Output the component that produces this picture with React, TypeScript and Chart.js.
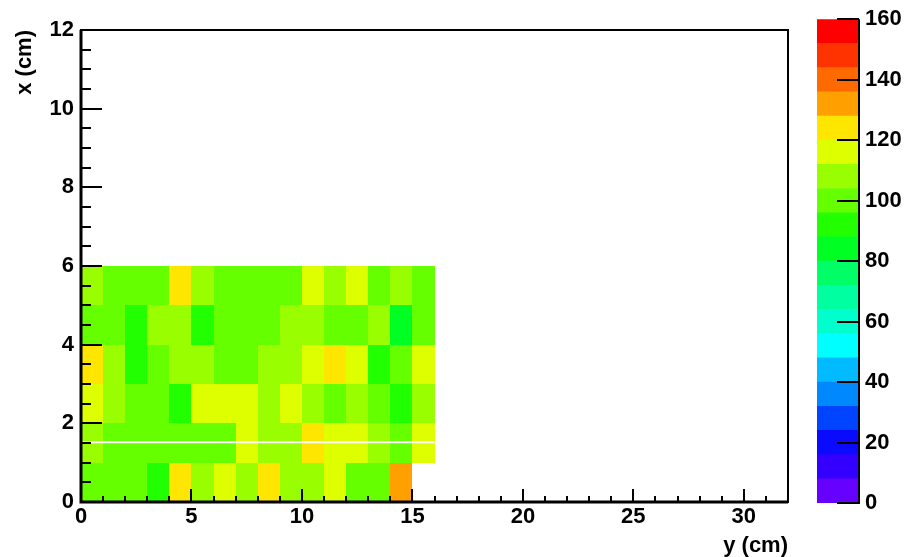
import React, { useEffect, useRef } from "react";
import { Chart, registerables } from "chart.js";

Chart.register(...registerables);

// ---- Data ----
// bin edges along the horizontal axis "y (cm)" and vertical axis "x (cm)"
const colEdges = [0, 1, 2, 3, 4, 5, 6, 7, 8, 9, 10, 11, 12, 13, 14, 15, 16];
const rowEdges = [0, 1, 2, 3, 4, 5, 6];

// bin contents, one array per row (x from 0 to 1, 1 to 2, ...)
const rowX0 = [99, 101, 98, 92, 124, 107, 116, 109, 123, 106, 110, 115, 100, 97, 131, null];
const rowX1 = [108, 101, 99, 100, 102, 98, 101, 117, 110, 107, 125, 118, 116, 106, 99, 117];
const rowX2 = [114, 109, 100, 98, 93, 117, 115, 118, 105, 116, 111, 102, 108, 99, 91, 106];
const rowX3 = [121, 106, 90, 102, 110, 105, 99, 101, 107, 109, 114, 126, 117, 89, 103, 119];
const rowX4 = [100, 98, 94, 111, 106, 91, 102, 97, 99, 108, 105, 101, 98, 110, 86, 100];
const rowX5 = [107, 103, 99, 101, 125, 109, 100, 98, 102, 97, 115, 106, 118, 101, 108, 103];
const rows = [rowX0, rowX1, rowX2, rowX3, rowX4, rowX5];

// thin white gap line seen across the filled region
const gapLine = [
  { x: 0, y: 1.52 },
  { x: 16, y: 1.52 },
];

// colour palette contour levels and colours
const zLevels = [0, 8, 16, 24, 32, 40, 48, 56, 64, 72, 80, 88, 96, 104, 112, 120, 128, 136, 144, 152, 160];
const zColors = [
  "#6600ff", "#3300ff", "#0a0aff", "#0044ff", "#0088ff",
  "#00bbff", "#00ffff", "#00ffcc", "#00ffa0", "#00ff66",
  "#00ff22", "#22ff00", "#66ff00", "#99ff00", "#ddff00",
  "#ffe600", "#ffa000", "#ff6a00", "#ff3300", "#ff0000",
];

const xTicksMajor = [0, 5, 10, 15, 20, 25, 30];
const yTicksMajor = [0, 2, 4, 6, 8, 10, 12];
const zTicksMajor = [0, 20, 40, 60, 80, 100, 120, 140, 160];

const FONT = "'Liberation Sans', Arial, Helvetica, sans-serif";
const TICK_FONT = { family: FONT, size: 22, weight: "bold" as const };

function colorFor(v: number): string {
  for (let i = 0; i < zColors.length; i++) {
    if (v >= zLevels[i] && v < zLevels[i + 1]) return zColors[i];
  }
  return zColors[zColors.length - 1];
}

const heatmapPlugin = {
  id: "heatmap",
  beforeDatasetsDraw(chart: any) {
    const { ctx } = chart;
    const xs = chart.scales.x;
    const ys = chart.scales.y;
    ctx.save();
    rows.forEach((row, r) => {
      row.forEach((v, c) => {
        if (v === null || v === undefined) return;
        const x0 = Math.round(xs.getPixelForValue(colEdges[c]));
        const x1 = Math.round(xs.getPixelForValue(colEdges[c + 1]));
        const y0 = Math.round(ys.getPixelForValue(rowEdges[r]));
        const y1 = Math.round(ys.getPixelForValue(rowEdges[r + 1]));
        ctx.fillStyle = colorFor(v as number);
        ctx.fillRect(x0, y1, x1 - x0, y0 - y1);
      });
    });
    ctx.restore();
  },
};

const framePlugin = {
  id: "frame",
  afterDraw(chart: any) {
    const { ctx, chartArea: a } = chart;
    const xs = chart.scales.x;
    const ys = chart.scales.y;
    ctx.save();
    ctx.strokeStyle = "#000";
    ctx.lineWidth = 2;
    ctx.beginPath();
    for (let v = 0; v <= 32; v += 1) {
      const px = Math.round(xs.getPixelForValue(v));
      const len = xTicksMajor.includes(v) ? 13 : 6;
      ctx.moveTo(px, a.bottom);
      ctx.lineTo(px, a.bottom - len);
    }
    for (let v = 0; v <= 12; v += 0.5) {
      const py = Math.round(ys.getPixelForValue(v));
      const len = yTicksMajor.includes(v) ? 21 : 10;
      ctx.moveTo(a.left, py);
      ctx.lineTo(a.left + len, py);
    }
    ctx.stroke();
    ctx.strokeRect(a.left, a.top, a.right - a.left, a.bottom - a.top);
    ctx.lineWidth = 3;
    ctx.beginPath();
    ctx.moveTo(a.left, a.top);
    ctx.lineTo(a.left, a.bottom);
    ctx.lineTo(a.right, a.bottom);
    ctx.stroke();

    // axis titles
    ctx.fillStyle = "#000";
    ctx.font = `bold 22px ${FONT}`;
    ctx.textBaseline = "alphabetic";
    ctx.textAlign = "right";
    ctx.fillText("y (cm)", a.right, 552);
    ctx.translate(31, a.top);
    ctx.rotate(-Math.PI / 2);
    ctx.fillText("x (cm)", 0, 0);
    ctx.restore();
  },
};

const paletteAxisPlugin = {
  id: "paletteAxis",
  afterDraw(chart: any) {
    const { ctx, chartArea: a } = chart;
    const ys = chart.scales.y;
    ctx.save();
    ctx.strokeStyle = "#000";
    ctx.lineWidth = 2;
    ctx.beginPath();
    zTicksMajor.forEach((v) => {
      const py = Math.round(ys.getPixelForValue(v));
      ctx.moveTo(a.right, py);
      ctx.lineTo(a.right - 22, py);
    });
    ctx.moveTo(a.right, a.top);
    ctx.lineTo(a.right, a.bottom + 1);
    ctx.stroke();
    ctx.restore();
  },
};

export default function App() {
  const mainRef = useRef<HTMLCanvasElement | null>(null);
  const barRef = useRef<HTMLCanvasElement | null>(null);

  useEffect(() => {
    if (!mainRef.current || !barRef.current) return;

    const main = new Chart(mainRef.current, {
      type: "scatter",
      data: {
        datasets: [
          {
            data: gapLine,
            showLine: true,
            borderColor: "#ffffff",
            borderWidth: 2,
            pointRadius: 0,
          },
        ],
      },
      options: {
        animation: false,
        responsive: false,
        events: [],
        layout: { padding: { top: 30, right: 119, left: 0, bottom: 0 } },
        plugins: { legend: { display: false }, tooltip: { enabled: false } },
        scales: {
          x: {
            type: "linear",
            min: 0,
            max: 32,
            afterFit: (s: any) => {
              s.height = 55;
            },
            afterBuildTicks: (s: any) => {
              s.ticks = xTicksMajor.map((v) => ({ value: v }));
            },
            ticks: { font: TICK_FONT, color: "#000", padding: 2, maxRotation: 0, autoSkip: false },
            grid: { display: false, drawTicks: false },
            border: { display: false },
          },
          y: {
            type: "linear",
            min: 0,
            max: 12,
            afterFit: (s: any) => {
              s.width = 81;
            },
            afterBuildTicks: (s: any) => {
              s.ticks = yTicksMajor.map((v) => ({ value: v }));
            },
            ticks: { font: TICK_FONT, color: "#000", padding: 7, autoSkip: false },
            grid: { display: false, drawTicks: false },
            border: { display: false },
          },
        },
      },
      plugins: [heatmapPlugin, framePlugin],
    } as any);

    const bar = new Chart(barRef.current, {
      type: "bar",
      data: {
        labels: ["z"],
        datasets: zColors.map((c, i) => ({
          data: [zLevels[i + 1] - zLevels[i]],
          backgroundColor: c,
          borderWidth: 0,
          barPercentage: 1,
          categoryPercentage: 1,
          stack: "palette",
        })),
      },
      options: {
        animation: false,
        responsive: false,
        events: [],
        layout: { padding: { top: 16, bottom: 54, left: 17, right: 0 } },
        plugins: { legend: { display: false }, tooltip: { enabled: false } },
        scales: {
          x: { display: false, stacked: true },
          y: {
            position: "right",
            stacked: true,
            min: 0,
            max: 160,
            afterFit: (s: any) => {
              s.width = 48;
            },
            afterBuildTicks: (s: any) => {
              s.ticks = zTicksMajor.map((v) => ({ value: v }));
            },
            ticks: { font: TICK_FONT, color: "#000", padding: 6, autoSkip: false },
            grid: { display: false, drawTicks: false },
            border: { display: false },
          },
        },
      },
      plugins: [paletteAxisPlugin],
    } as any);

    return () => {
      main.destroy();
      bar.destroy();
    };
  }, []);

  return (
    <div
      style={{
        position: "fixed",
        left: 0,
        top: 0,
        width: 907,
        height: 557,
        background: "#fff",
      }}
    >
      <canvas
        ref={mainRef}
        width={907}
        height={557}
        style={{ position: "absolute", left: 0, top: 0, width: 907, height: 557 }}
      />
      <canvas
        ref={barRef}
        width={107}
        height={557}
        style={{ position: "absolute", left: 800, top: 0, width: 107, height: 557 }}
      />
    </div>
  );
}
